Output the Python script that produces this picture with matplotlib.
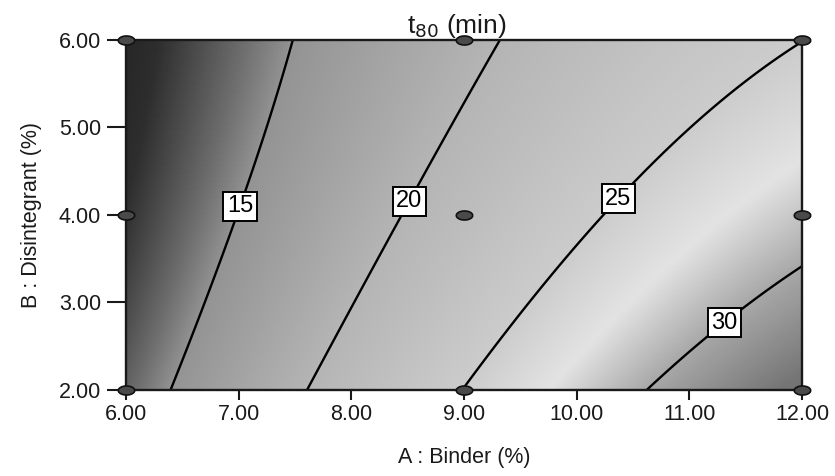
import numpy as np
import matplotlib
matplotlib.use('Agg')
import matplotlib.pyplot as plt
from matplotlib.colors import LinearSegmentedColormap, Normalize

plt.rcParams['font.family'] = ['Liberation Sans', 'DejaVu Sans']

# points traced along each contour line of the picture (A : Binder, B : Disintegrant)
c15_a = [6.39, 6.80, 7.01, 7.16, 7.25, 7.48]
c15_b = [2.00, 3.37, 4.11, 4.63, 5.00, 6.00]
c20_a = [7.60, 8.30, 8.54, 8.77, 9.30]
c20_b = [2.00, 3.60, 4.19, 4.74, 6.00]
c25_a = [9.00, 9.84, 10.32, 10.74, 11.39, 12.00]
c25_b = [2.00, 3.37, 4.25, 4.65, 5.35, 6.00]
c30_a = [10.65, 11.27, 12.00]
c30_b = [2.00, 2.85, 3.35]
levels = [15, 20, 25, 30]

# where the boxed labels sit
label_a = [6.99, 8.47, 10.30, 11.24]
label_b = [4.11, 4.19, 4.27, 2.88]

# design points (3x3 factorial)
design_a = [6, 9, 12, 6, 9, 12, 6, 9, 12]
design_b = [2, 2, 2, 4, 4, 4, 6, 6, 6]

x_ticks = [6, 7, 8, 9, 10, 11, 12]
y_ticks = [2, 3, 4, 5, 6]

shade_val = [8, 11, 13.5, 15, 20, 25, 27.5, 30, 33, 36]
shade_grey = [0.10, 0.18, 0.42, 0.58, 0.71, 0.80, 0.89, 0.66, 0.46, 0.36]

# fit a quadratic response surface through the traced contour points
pa = np.array(c15_a + c20_a + c25_a + c30_a)
pb = np.array(c15_b + c20_b + c25_b + c30_b)
pz = np.array([15] * len(c15_a) + [20] * len(c20_a) + [25] * len(c25_a) + [30] * len(c30_a), float)
M = np.column_stack([np.ones_like(pa), pa, pb, pa * pb, pa ** 2, pb ** 2])
coef = np.linalg.lstsq(M, pz, rcond=None)[0]

ga, gb = np.meshgrid(np.linspace(6, 12, 400), np.linspace(2, 6, 300))
gz = (coef[0] + coef[1] * ga + coef[2] * gb + coef[3] * ga * gb
      + coef[4] * ga ** 2 + coef[5] * gb ** 2)

vmin, vmax = shade_val[0], shade_val[-1]
cmap = LinearSegmentedColormap.from_list(
    'greys_de', [((v - vmin) / (vmax - vmin), (g, g, g)) for v, g in zip(shade_val, shade_grey)])

fig = plt.figure(figsize=(8.35, 4.76), dpi=100)
ax = fig.add_axes([0.1509, 0.1807, 0.8096, 0.7353])

ax.imshow(gz, extent=[6, 12, 2, 6], origin='lower', aspect='auto',
          cmap=cmap, norm=Normalize(vmin, vmax), interpolation='bilinear')
cs = ax.contour(ga, gb, gz, levels=levels, colors='k', linewidths=1.7)
texts = ax.clabel(cs, fmt='%d', fontsize=17, inline=False,
                  manual=list(zip(label_a, label_b)))
for t in texts:
    t.set_rotation(0)
    t.set_bbox(dict(facecolor='white', edgecolor='black', linewidth=1.4, pad=2.6))
    t.set_zorder(5)

# elliptical design point markers
th = np.linspace(0, 2 * np.pi, 40)
ell = np.column_stack([np.cos(th), 0.55 * np.sin(th)])
ax.scatter(design_a, design_b, marker=ell, s=140, facecolor='#4a4a4a',
           edgecolor='#111111', linewidths=1.2, zorder=6, clip_on=False)

ax.set_xlim(6, 12)
ax.set_ylim(2, 6)
ax.set_xticks(x_ticks)
ax.set_xticklabels(['%.2f' % v for v in x_ticks])
ax.set_yticks(y_ticks)
ax.set_yticklabels(['%.2f' % v for v in y_ticks])
ax.tick_params(axis='x', length=7, width=1.5, pad=3, labelsize=15.5, colors='#1a1a1a')
ax.tick_params(axis='y', length=14, width=1.5, pad=4, labelsize=15.5, colors='#1a1a1a')
for sp in ax.spines.values():
    sp.set_linewidth(1.7)
    sp.set_color('#1a1a1a')

ax.set_title('t$_{80}$ (min)', fontsize=19, pad=1, color='#1a1a1a', x=0.49)
ax.set_xlabel('A : Binder (%)', fontsize=15.5, labelpad=16, color='#1a1a1a')
ax.set_ylabel('B : Disintegrant (%)', fontsize=15.5, labelpad=12, color='#1a1a1a')

fig.savefig('out.png', dpi=100)
